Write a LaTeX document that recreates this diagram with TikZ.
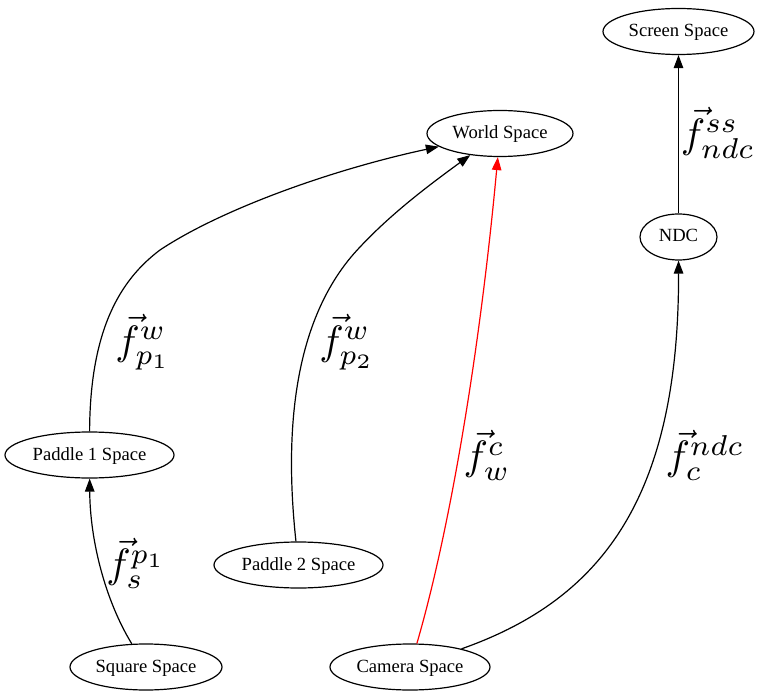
\documentclass[tikz,border=0pt]{standalone}
\usepackage{fontspec}
\setmainfont{Liberation Serif}
\usepackage{amsmath}
\usepackage{graphicx}
\usetikzlibrary{shapes.geometric,arrows.meta}
\newcommand{\biglab}[1]{\scalebox{4.1}{\fontsize{10}{12}\selectfont$#1$}}
\tikzset{
  space/.style={draw, ellipse, line width=1.2pt, inner sep=0pt, minimum height=46pt,
    font=\fontsize{18.6}{21}\selectfont, text height=12pt, text depth=2pt},
  conn/.style={line width=1.2pt, -{Triangle[length=13pt,width=9.5pt]}},
  lab/.style={inner sep=0pt}
}
\begin{document}
\begin{tikzpicture}[x=1pt,y=-1pt]
\path[use as bounding box] (0,0) rectangle (766,695);
\node[space, minimum width=151pt] (ss) at (678.5,31.5) {Screen Space};
\node[space, minimum width=146pt] (ws) at (500,133.5) {World Space};
\node[space, minimum width=77pt] (ndc) at (678.5,237) {NDC};
\node[space, minimum width=169pt] (p1) at (89.5,455) {Paddle 1 Space};
\node[space, minimum width=169pt] (p2) at (298.5,565) {Paddle 2 Space};
\node[space, minimum width=152pt] (sq) at (146,667) {Square Space};
\node[space, minimum width=160pt] (cam) at (410,667) {Camera Space};

\coordinate (m1) at (160,250);
\coordinate (m2) at (360,247);

\draw[conn] (sq) .. controls (105,600) and (90,540) .. (p1);
\draw[conn] (p1) .. controls (90,330) and (120,280) .. (m1) .. controls (220,210) and (330,170) .. (ws);
\draw[conn] (p2) .. controls (285,440) and (290,320) .. (m2) .. controls (390,215) and (425,188) .. (ws);
\draw[conn, red] (cam) .. controls (450,530) and (480,350) .. (ws);
\draw[conn] (cam) .. controls (600,600) and (679,500) .. (ndc);
\draw[conn] (ndc) -- (ss);

\node[lab] (l1) at (136,563) {\biglab{\vec{f}_{s}^{p_1}}};
\node[lab] (l2) at (143,342) {\biglab{\vec{f}_{p_1}^{w}}};
\node[lab] (l3) at (347,342) {\biglab{\vec{f}_{p_2}^{w}}};
\node[lab] (l4) at (487,455) {\biglab{\vec{f}_{w}^{c}}};
\node[lab] (l5) at (705,455) {\biglab{\vec{f}_{c}^{ndc}}};
\node[lab] (l6) at (718,133) {\biglab{\vec{f}_{ndc}^{ss}}};
\end{tikzpicture}
\end{document}
